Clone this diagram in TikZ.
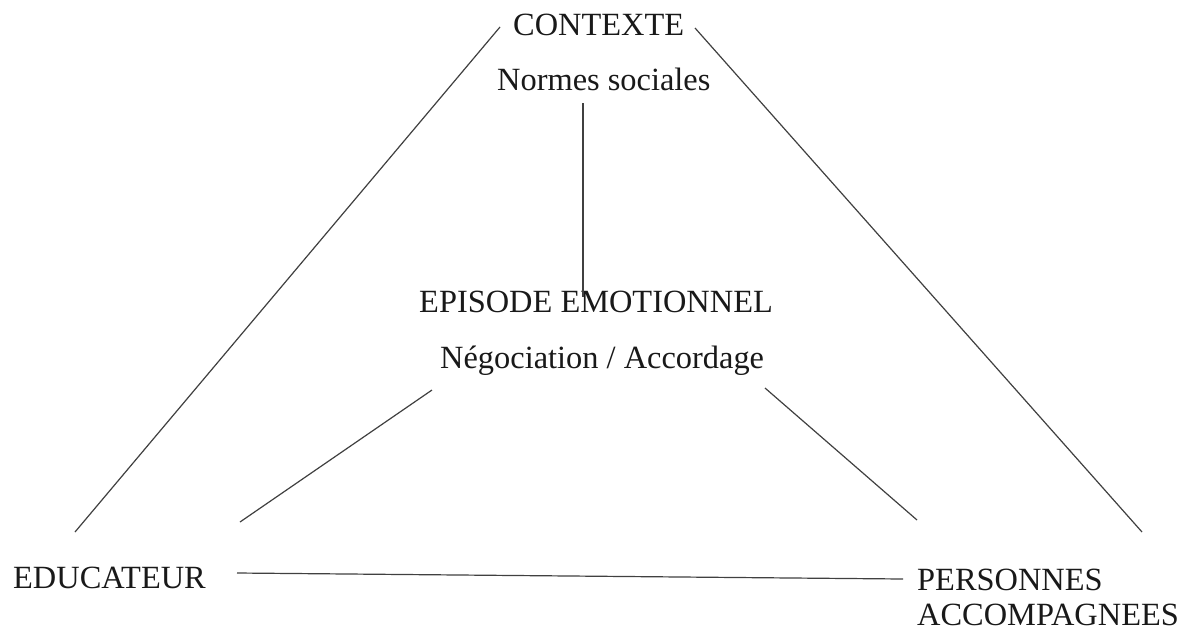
\documentclass[tikz,border=0pt]{standalone}
\usepackage{fontspec}
\setmainfont{Liberation Serif}
\begin{document}
\begin{tikzpicture}[x=1pt,y=-1pt,
  lbl/.style={inner sep=0pt,anchor=base west,font=\fontsize{32.4}{35}\selectfont,text=black!90},
  conn/.style={draw=black!75,line width=1.2pt}]
\useasboundingbox[fill=white] (0,0) rectangle (1196,630);
\node[lbl] (contexte) at (513,35) {CONTEXTE};
\node[lbl] (normes) at (497,90) {Normes sociales};
\node[lbl] (episode) at (419,312) {EPISODE EMOTIONNEL};
\node[lbl] (nego) at (440,368) {Négociation / Accordage};
\node[lbl] (educ) at (13,588) {EDUCATEUR};
\node[lbl,align=left] (pers) at (917,625) {PERSONNES\\ACCOMPAGNEES};
% endpoints
\coordinate (lt) at (500,27);
\coordinate (lb) at (75,532);
\coordinate (rt) at (695,28);
\coordinate (rb) at (1142,532);
\coordinate (vt) at (583,103);
\coordinate (vb) at (583,297);
\coordinate (ilt) at (432,390);
\coordinate (ilb) at (240,522);
\coordinate (irt) at (765,388);
\coordinate (irb) at (917,520);
\coordinate (hl) at (237,573);
\coordinate (hr) at (903,579);
\draw[conn] (lt) -- (lb);
\draw[conn] (rt) -- (rb);
\draw[conn] (vt) -- (vb);
\draw[conn] (ilt) -- (ilb);
\draw[conn] (irt) -- (irb);
\draw[conn] (hl) -- (hr);
\end{tikzpicture}
\end{document}
